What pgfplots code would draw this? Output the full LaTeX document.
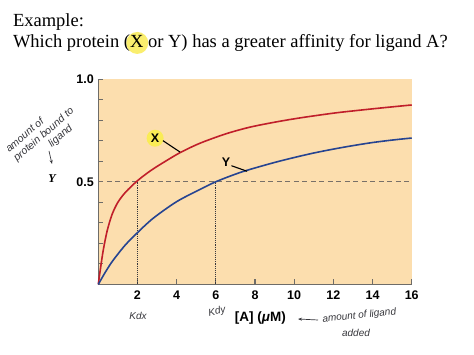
\documentclass[border=0pt]{standalone}
\usepackage{pgfplots}
\pgfplotsset{compat=1.18}
\usepackage{fontspec}
\setmainfont{Liberation Serif}
\setsansfont{Liberation Sans}
\usetikzlibrary{arrows.meta}
\definecolor{bgfill}{RGB}{252,222,174}
\definecolor{redc}{RGB}{192,30,42}
\definecolor{bluec}{RGB}{38,68,145}
\definecolor{hl}{RGB}{250,236,85}
\definecolor{axgray}{RGB}{110,108,104}
\definecolor{dashgray}{RGB}{120,112,104}
\definecolor{pen}{RGB}{55,55,60}
\begin{document}
\begin{tikzpicture}[x=1pt,y=1pt]
\useasboundingbox (0,0) rectangle (474,-355);
\fill[white] (0,0) rectangle (474,-355);
% title
\begin{scope}[every node/.style={inner sep=0pt, outer sep=0pt, font=\fontsize{18.5}{22}\selectfont}]
\node[anchor=base west] at (13,-27) {Example:};
\node[anchor=base west] (t1) at (13,-48) {Which protein (};
\node[anchor=base west] (tx) at (t1.base east) {X};
\node[anchor=base west] (t2) at (tx.base east) {\ or Y) has a greater affinity for ligand A?};
\fill[hl, opacity=0.85] ([xshift=0.5pt,yshift=-1pt]tx.center) circle (11);
\node[anchor=base west] at (t1.base east) {X};
\end{scope}
\begin{axis}[
  at={(98.3pt,-284.4pt)}, anchor=south west,
  scale only axis, width=313.4pt, height=205.3pt,
  xmin=0, xmax=16, ymin=0, ymax=1,
  clip=false,
  axis x line*=bottom, axis y line*=left,
  axis line style={draw=axgray, line width=1.4pt, -},
  axis background/.style={fill=bgfill},
  tick align=inside,
  major tick length=5pt,
  tick style={draw=axgray, line width=1.1pt},
  xtick={2,4,6,8,10,12,14,16},
  xticklabels={2,4,6,8,10,12,14,16},
  ytick={0.1,0.2,0.3,0.4,0.5,0.6,0.7,0.8,0.9,1.0},
  yticklabels={,,,,0.5,,,,,1.0},
  ticklabel style={font=\sffamily\bfseries\fontsize{12.5}{14}\selectfont, text=black},
  xticklabel style={yshift=-2.5pt},
  yticklabel style={xshift=-1pt},
  xlabel={[A] ({\itshape μ}M)},
  xlabel style={font=\sffamily\bfseries\fontsize{13.5}{15}\selectfont, at={(axis description cs:0.517,0)}, anchor=center, yshift=-34pt},
]
% guide lines
\addplot[dashgray, line width=1.3pt, dash pattern=on 5pt off 3.5pt] coordinates {(0,0.5) (16,0.5)};
\addplot[pen, line width=0.9pt, densely dotted] coordinates {(2,0) (2,0.5)};
\addplot[pen, line width=0.9pt, densely dotted] coordinates {(6,0) (6,0.5)};
% protein X
\addplot[redc, line width=1.6pt, smooth, tension=0.5] coordinates {
(0,0) (0.1,0.07) (0.25,0.165) (0.45,0.26) (0.7,0.34) (1.0,0.40) (1.4,0.45) (2.0,0.505)
(2.7,0.556) (3.5,0.604) (4.2,0.643) (5.2,0.688) (6.5,0.733) (7.7,0.765) (9,0.79)
(10.3,0.811) (12,0.834) (13.2,0.847) (14.5,0.86) (16,0.874)};
% protein Y
\addplot[bluec, line width=1.6pt, smooth, tension=0.5] coordinates {
(0,0) (0.3,0.05) (0.7,0.11) (1.36,0.19) (2,0.252) (2.8,0.322) (4,0.403) (5.2,0.463)
(6,0.5) (7,0.537) (7.74,0.56) (9,0.594) (10,0.618) (11,0.64) (12,0.659) (13,0.676)
(14,0.691) (15,0.703) (16,0.713)};
% labels
\fill[hl] (axis cs:2.9,0.712) circle (8.5pt);
\node[font=\sffamily\bfseries\fontsize{12.5}{14}\selectfont] at (axis cs:2.9,0.712) {X};
\draw[black, line width=1.1pt] (axis cs:3.3,0.70) -- (axis cs:4.17,0.645);
\node[font=\sffamily\bfseries\fontsize{12.5}{14}\selectfont] at (axis cs:6.52,0.593) {Y};
\draw[black, line width=1.1pt] (axis cs:6.8,0.578) -- (axis cs:7.6,0.551);
\end{axis}
% y label and handwritten notes
\node[font=\bfseries\itshape\fontsize{12}{14}\selectfont] at (52,-179) {Y};
\node[rotate=41, align=left, text=pen, font=\sffamily\itshape\fontsize{10.5}{12}\selectfont, inner sep=0pt]
  at (44,-135) {amount of\\protein bound to\\\hspace{3.4em}ligand};
\draw[pen, line width=0.7pt, -{Stealth[length=4pt]}] (49,-151) -- (52,-164);
\node[text=pen, font=\sffamily\itshape\fontsize{10}{11}\selectfont] at (138,-316) {Kdx};
\node[text=pen, rotate=12, font=\sffamily\itshape\fontsize{10}{11}\selectfont] at (217,-312) {Kdy};
\draw[pen, line width=0.7pt, -{Stealth[length=4pt]}] (318,-320) -- (298,-319);
\node[text=pen, rotate=6, anchor=west, font=\sffamily\itshape\fontsize{10}{11}\selectfont] at (319,-320) {amount of ligand};
\node[text=pen, font=\sffamily\itshape\fontsize{10}{11}\selectfont] at (356,-333) {added};
\end{tikzpicture}
\end{document}
